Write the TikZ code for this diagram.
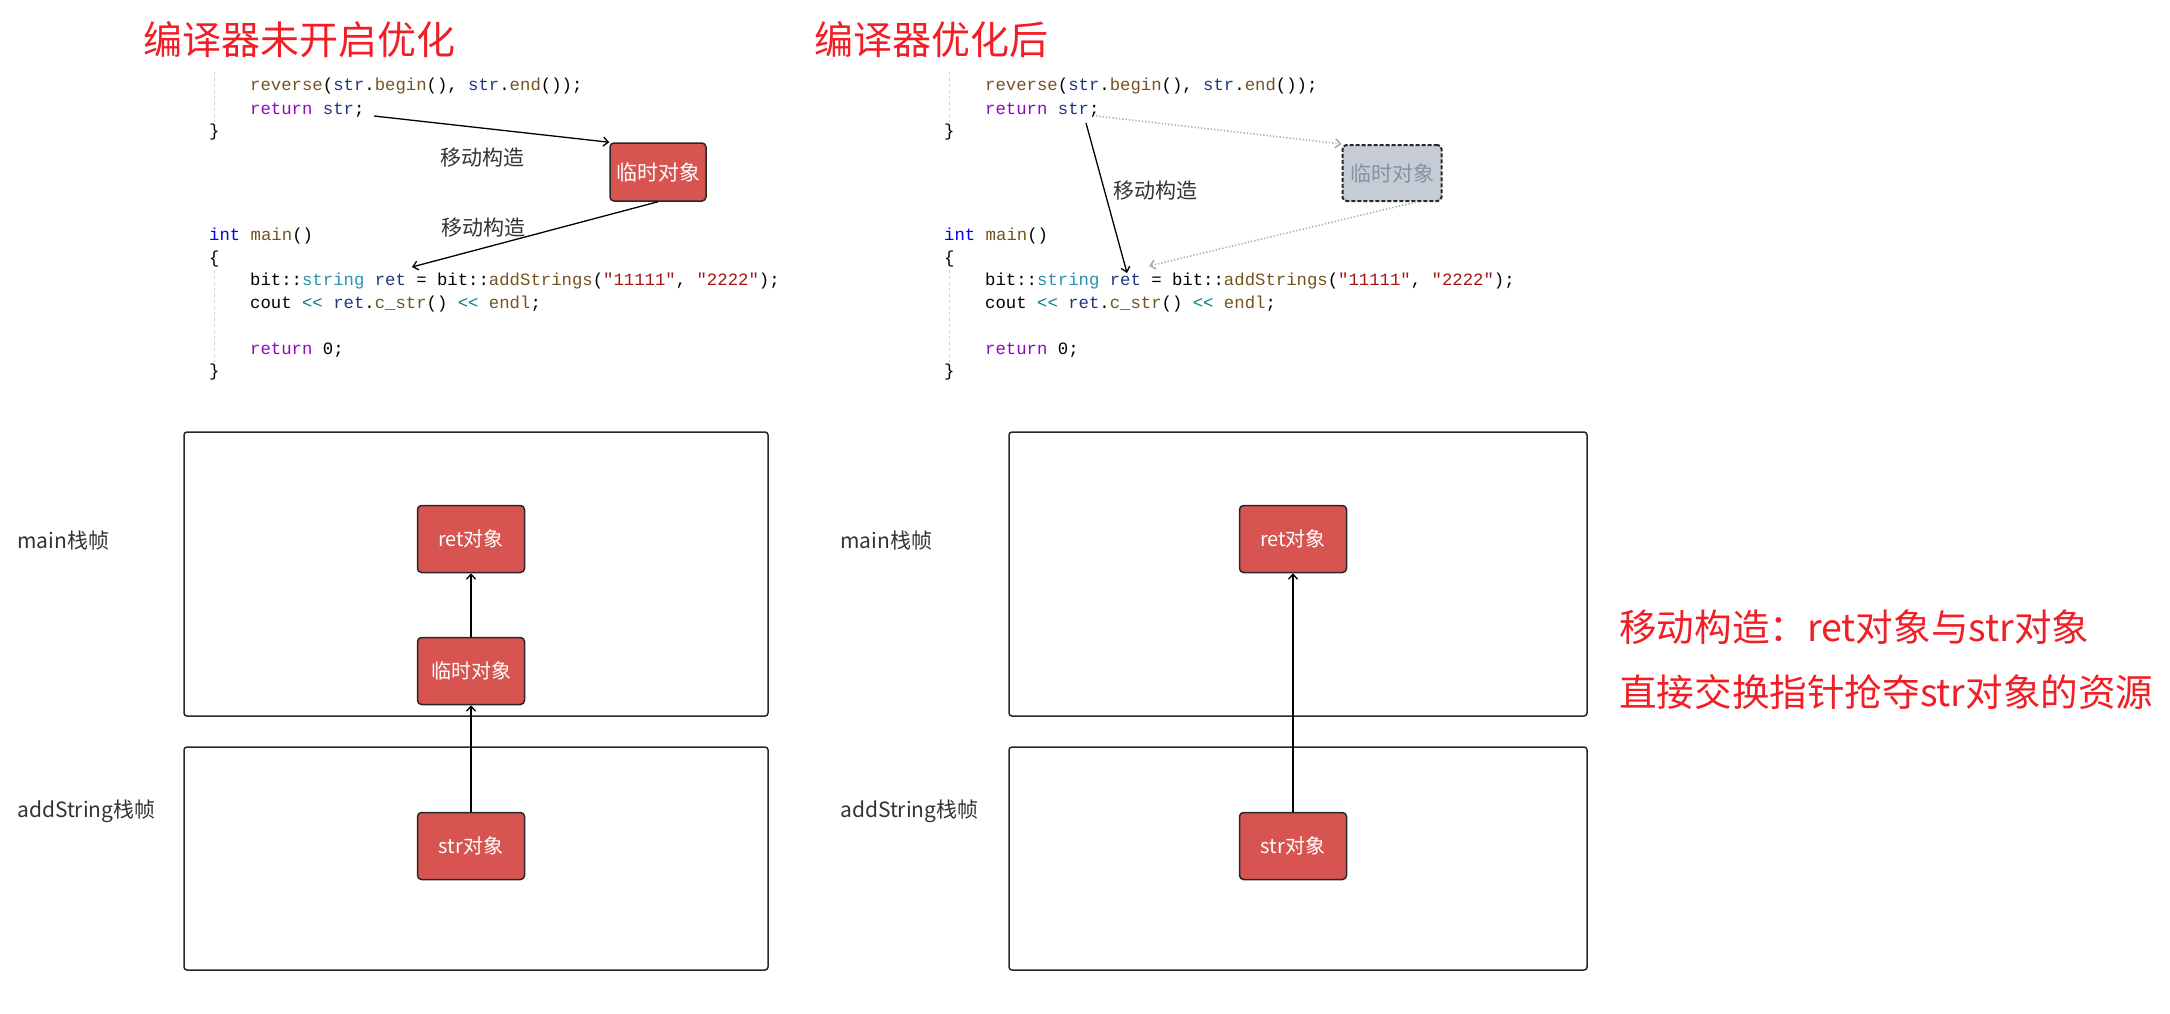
\documentclass[tikz,border=0pt]{standalone}
\usepackage{fontspec}
\setmainfont{Noto Sans CJK SC}
\setmonofont{Liberation Mono}
\usetikzlibrary{arrows.meta, positioning}

\definecolor{titlered}{RGB}{242,30,38}
\definecolor{boxred}{RGB}{215,84,80}
\definecolor{boxline}{RGB}{40,40,40}
\definecolor{ghostfill}{RGB}{198,204,214}
\definecolor{ghosttext}{RGB}{135,146,158}
\definecolor{ghostline}{RGB}{160,176,192}
\definecolor{labelgray}{RGB}{51,51,51}
\definecolor{codefn}{RGB}{116,83,31}
\definecolor{codevar}{RGB}{31,55,127}
\definecolor{codekw}{RGB}{143,8,196}
\definecolor{codetype}{RGB}{0,0,255}
\definecolor{codecls}{RGB}{43,145,175}
\definecolor{codestr}{RGB}{163,21,21}
\definecolor{codeop}{RGB}{0,128,128}

\newcommand{\setfs}[1]{\fontsize{#1}{#1}\selectfont}
\newcommand{\cfn}[1]{\textcolor{codefn}{#1}}
\newcommand{\cvar}[1]{\textcolor{codevar}{#1}}
\newcommand{\ckw}[1]{\textcolor{codekw}{#1}}
\newcommand{\ctype}[1]{\textcolor{codetype}{#1}}
\newcommand{\ccls}[1]{\textcolor{codecls}{#1}}
\newcommand{\cstr}[1]{\textcolor{codestr}{#1}}
\newcommand{\cop}[1]{\textcolor{codeop}{#1}}

% the code snippet, #1 = x of the left column, #2 = name prefix
\newcommand{\codeblock}[2]{%
  \node[codeline] (#2c1) at (#1+41, 91)  {\cfn{reverse}(\cvar{str}.\cfn{begin}(), \cvar{str}.\cfn{end}());};
  \node[codeline] (#2c2) at (#1+41, 114) {\ckw{return} \cvar{str};};
  \node[codeline] (#2c3) at (#1, 136)    {\}};
  \node[codeline] (#2c4) at (#1, 240)    {\ctype{int} \cfn{main}()};
  \node[codeline] (#2c5) at (#1, 263)    {\{};
  \node[codeline] (#2c6) at (#1+41, 285) {bit::\ccls{string} \cvar{ret} = bit::\cfn{addStrings}(\cstr{"11111"}, \cstr{"2222"});};
  \node[codeline] (#2c7) at (#1+41, 308) {cout \cop{<<} \cvar{ret}.\cfn{c\_str}() \cop{<<} \cfn{endl};};
  \node[codeline] (#2c8) at (#1+41, 354) {\ckw{return} 0;};
  \node[codeline] (#2c9) at (#1, 376)    {\}};
  \draw[guide] (#1+5, 72) -- (#1+5, 122);
  \draw[guide] (#1+5, 270) -- (#1+5, 364);
}

\begin{document}
\begin{tikzpicture}[x=1pt, y=-1pt,
    title/.style={anchor=west, inner sep=0pt, text=titlered, font=\setfs{39}},
    note/.style={anchor=west, inner sep=0pt, text=titlered, font=\setfs{37.6}},
    codeline/.style={anchor=base west, inner sep=0pt, font=\ttfamily\setfs{17.3}},
    guide/.style={draw=black!18, dashed, line width=0.8pt},
    objbox/.style={draw=boxline, fill=boxred, line width=1.5pt, rounded corners=4pt,
                   text=white, font=\setfs{20}, minimum width=107pt, minimum height=67pt},
    tmpbox/.style={objbox, font=\setfs{21}, minimum width=96pt, minimum height=58pt},
    ghostbox/.style={draw=boxline, fill=ghostfill, dash pattern=on 4pt off 2pt, line width=2pt,
                     rounded corners=4pt, text=ghosttext, font=\setfs{21},
                     minimum width=99pt, minimum height=56pt},
    framebox/.style={draw=boxline, line width=1.5pt, rounded corners=3pt, inner sep=0pt},
    framelabel/.style={anchor=west, inner sep=0pt, text=labelgray, font=\setfs{21}},
    movelabel/.style={text=labelgray, font=\setfs{21}, inner sep=2pt},
    arrow/.style={-{Straight Barb[length=5pt,width=9pt]}, line width=1.3pt},
    ghostarrow/.style={arrow, draw=ghostline, dotted, line width=1.6pt}
]
    \useasboundingbox (0,0) rectangle (2170,1014);

    % titles
    \node[title] (ltitle) at (143,40) {编译器未开启优化};
    \node[title] (rtitle) at (814,40) {编译器优化后};

    % code
    \codeblock{209}{l}
    \codeblock{944}{r}

    % temporary objects
    \node[tmpbox]   (ltmp) at (658,172)  {临时对象};
    \node[ghostbox] (rtmp) at (1392,173) {临时对象};

    \coordinate (lsrc)  at (374,116);
    \coordinate (ldst)  at (412,267);
    \coordinate (rsrc)  at (1096,116);
    \coordinate (rdst)  at (1149,266);
    \coordinate (rsrc2) at (1086,123);
    \coordinate (rdst2) at (1127,273);

    \draw[arrow] (lsrc) -- node[movelabel, pos=0.46, below=17pt] (lmove1) {移动构造} (ltmp.north west);
    \draw[arrow] (ltmp.south) -- node[movelabel, pos=0.71, above=8pt] (lmove2) {移动构造} (ldst);
    \draw[ghostarrow] (rsrc) -- (rtmp.north west);
    \draw[ghostarrow] ([xshift=24pt]rtmp.south) -- (rdst);
    \draw[arrow] (rsrc2) -- node[movelabel, pos=0.45, right=6pt] (rmove) {移动构造} (rdst2);

    % stack frames
    \node[framebox, minimum width=584pt, minimum height=284pt] (lmainf) at (476,574)    {};
    \node[framebox, minimum width=584pt, minimum height=223pt] (laddf)  at (476,858.5)  {};
    \node[framebox, minimum width=578pt, minimum height=284pt] (rmainf) at (1298,574)   {};
    \node[framebox, minimum width=578pt, minimum height=223pt] (raddf)  at (1298,858.5) {};

    \node[framelabel] (lmainlbl) at (17,541)  {main栈帧};
    \node[framelabel] (laddlbl)  at (17,811)  {addString栈帧};
    \node[framelabel] (rmainlbl) at (840,541) {main栈帧};
    \node[framelabel] (raddlbl)  at (840,811) {addString栈帧};

    \node[objbox] (lretobj) at (471,539) {ret对象};
    \node[objbox] (ltmpobj) at (471,671) {临时对象};
    \node[objbox] (lstrobj) at (471,846) {str对象};
    \node[objbox] (rretobj) at (1293,539) {ret对象};
    \node[objbox] (rstrobj) at (1293,846) {str对象};

    \draw[arrow] (lstrobj) -- (ltmpobj);
    \draw[arrow] (ltmpobj) -- (lretobj);
    \draw[arrow] (rstrobj) -- (rretobj);

    % notes
    \node[note] (note1) at (1619,627) {移动构造：ret对象与str对象};
    \node[note] (note2) at (1619,692) {直接交换指针抢夺str对象的资源};
\end{tikzpicture}
\end{document}
